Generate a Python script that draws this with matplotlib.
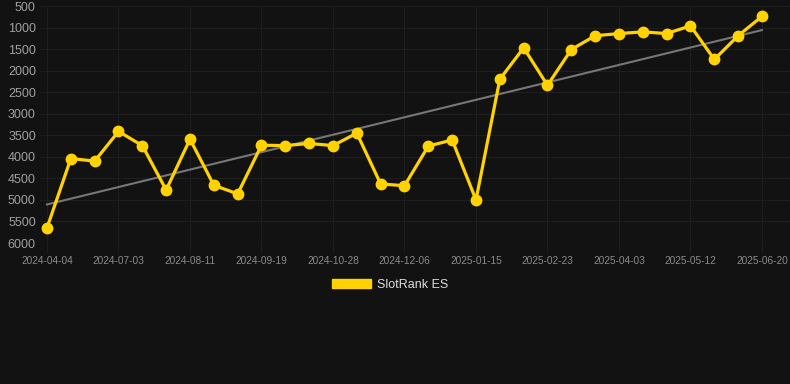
import numpy as np
import matplotlib
matplotlib.use('Agg')
import matplotlib.pyplot as plt
from matplotlib.patches import Patch

plt.rcParams['font.family'] = ['Liberation Sans', 'DejaVu Sans']

# rank values, one point roughly every 13 days
dates = ['2024-04-04', '2024-06-07', '2024-06-20', '2024-07-03', '2024-07-16',
         '2024-07-29', '2024-08-11', '2024-08-24', '2024-09-06', '2024-09-19',
         '2024-10-02', '2024-10-15', '2024-10-28', '2024-11-10', '2024-11-23',
         '2024-12-06', '2024-12-19', '2025-01-01', '2025-01-15', '2025-01-28',
         '2025-02-10', '2025-02-23', '2025-03-08', '2025-03-21', '2025-04-03',
         '2025-04-16', '2025-04-29', '2025-05-12', '2025-05-25', '2025-06-07',
         '2025-06-20']
rank = [5650, 4040, 4100, 3410, 3740, 4770, 3590, 4660, 4860, 3730,
        3740, 3690, 3740, 3450, 4630, 4670, 3750, 3610, 5000, 2200,
        1470, 2340, 1510, 1190, 1140, 1100, 1140, 960, 1740, 1190,
        740]
yticks = [500, 1000, 1500, 2000, 2500, 3000, 3500, 4000, 4500, 5000, 5500, 6000]
series_name = 'SlotRank ES'

bg = '#121212'
gold = '#FFD200'
gridc = '#1e1e1e'

fig = plt.figure(figsize=(7.9, 3.84), dpi=100, facecolor=bg)
W, H = 790, 384
ax = fig.add_axes([40 / W, 1 - 243 / H, (790 - 40) / W, (243 - 6) / H])
ax.set_facecolor(bg)

x = np.arange(len(rank))

# linear trend
k, b = np.polyfit(x, rank, 1)
ax.plot(x, k * x + b, color='#777777', lw=1.5, zorder=2)

ax.plot(x, rank, color=gold, lw=2.3, marker='o', ms=7.5,
        markerfacecolor=gold, markeredgecolor=gold, zorder=3)

step = 23.833
ax.set_xlim(-7 / step, (790 - 47) / step)
ax.set_ylim(6000, 500)
ax.set_yticks(yticks)
ax.set_yticklabels([str(v) for v in yticks])
ax.set_xticks(x[::3])
ax.set_xticklabels([dates[i] for i in x[::3]])

ax.grid(True, color=gridc, lw=0.8)
ax.set_axisbelow(True)
for s in ax.spines.values():
    s.set_visible(False)
ax.tick_params(axis='y', length=0, pad=3, labelsize=9, labelcolor='#a0a0a0')
ax.tick_params(axis='x', length=7, color=gridc, pad=2, labelsize=7.3,
               labelcolor='#8a8a8a')

fig.legend(handles=[Patch(facecolor=gold, edgecolor=gold, label=series_name)],
           loc='center', bbox_to_anchor=(390 / W, 1 - 285 / H), frameon=False,
           fontsize=9, labelcolor='#dddddd', handlelength=3.1, handleheight=0.75,
           handletextpad=0.5)

fig.savefig('out.png', dpi=100, facecolor=bg)
